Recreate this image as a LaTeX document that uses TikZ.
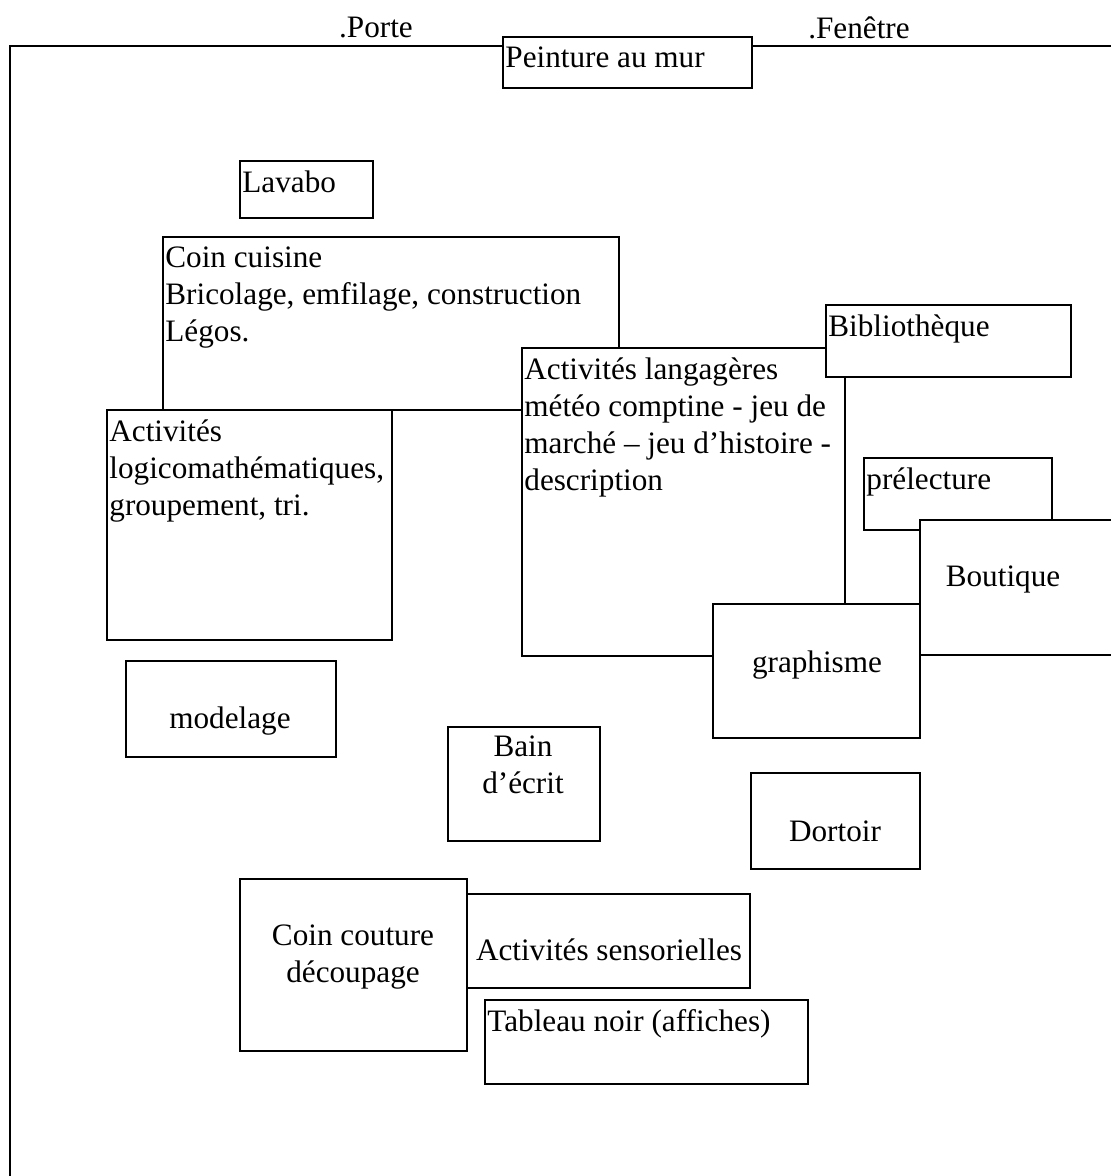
\documentclass[tikz,border=0pt]{standalone}
\usepackage{fontspec}
\setmainfont{Liberation Serif}
\usetikzlibrary{fit}

\begin{document}
\begin{tikzpicture}[x=0.5pt, y=-0.5pt, every node/.style={font=\fontsize{15.6}{18.5}\selectfont}]
\tikzstyle{zone} = [rectangle, draw=black, line width=0.9pt, fill=white, inner sep=0pt, outer sep=0pt]
\tikzstyle{tl} = [anchor=north west, align=left, inner xsep=1pt, inner ysep=4.8pt]
\tikzstyle{mid} = [align=center, inner sep=0pt]

\useasboundingbox (0,0) rectangle (1111,1176);
\clip (0,0) rectangle (1111,1176);

% walls of the room
\coordinate (wallS) at (10,1176);
\coordinate (wallNW) at (10,46);
\coordinate (wallNE) at (1111,46);
\draw[line width=0.9pt] (wallS) -- (wallNW) -- (wallNE);

\node (porte) at (376,28) {.Porte};
\node (fenetre) at (859,28) {.Fenêtre};

\node (peinture) [zone, fit={(503,37) (752,88)}] {};
\node (peintureT) [tl] at (peinture.north west) {Peinture au mur};

\node (lavabo) [zone, fit={(240,161) (373,218)}] {};
\node (lavaboT) [tl] at (lavabo.north west) {Lavabo};

% coins
\node (cuisine) [zone, fit={(163,237) (619,410)}] {};
\node (cuisineT) [tl] at (cuisine.north west) {Coin cuisine\\Bricolage, emfilage, construction\\Légos.};

\node (logico) [zone, fit={(107,410) (392,640)}] {};
\node (logicoT) [tl] at (logico.north west) {Activités\\logicomathématiques,\\groupement, tri.};

\node (langage) [zone, fit={(522,348) (845,656)}] {};
\node (langageT) [tl] at (langage.north west) {Activités langagères\\météo comptine - jeu de\\marché – jeu d’histoire -\\description};

\node (biblio) [zone, fit={(826,305) (1071,377)}] {};
\node (biblioT) [tl] at (biblio.north west) {Bibliothèque};

\node (prelecture) [zone, fit={(864,458) (1052,530)}] {};
\node (prelectureT) [tl] at (prelecture.north west) {prélecture};

\node (boutique) [zone, fit={(920,520) (1130,655)}] {};
\node (boutiqueT) [mid] at (1003,579) {Boutique};

\node (graphisme) [zone, fit={(713,604) (920,738)}] {};
\node (graphismeT) [mid] at (817,665) {graphisme};

\node (modelage) [zone, fit={(126,661) (336,757)}] {};
\node (modelageT) [mid] at (230,721) {modelage};

\node (bain) [zone, fit={(448,727) (600,841)}] {};
\node (bainT) [mid] at (523,765) {Bain\\d’écrit};

\node (dortoir) [zone, fit={(751,773) (920,869)}] {};
\node (dortoirT) [mid] at (835,831) {Dortoir};

\node (couture) [zone, fit={(240,879) (467,1051)}] {};
\node (coutureT) [mid] at (353,957) {Coin couture\\découpage};

\node (sensor) [zone, fit={(467,894) (750,988)}] {};
\node (sensorT) [mid] at (609,950) {Activités sensorielles};

\node (tableau) [zone, fit={(485,1000) (808,1084)}] {};
\node (tableauT) [tl] at (tableau.north west) {Tableau noir (affiches)};
\end{tikzpicture}
\end{document}
